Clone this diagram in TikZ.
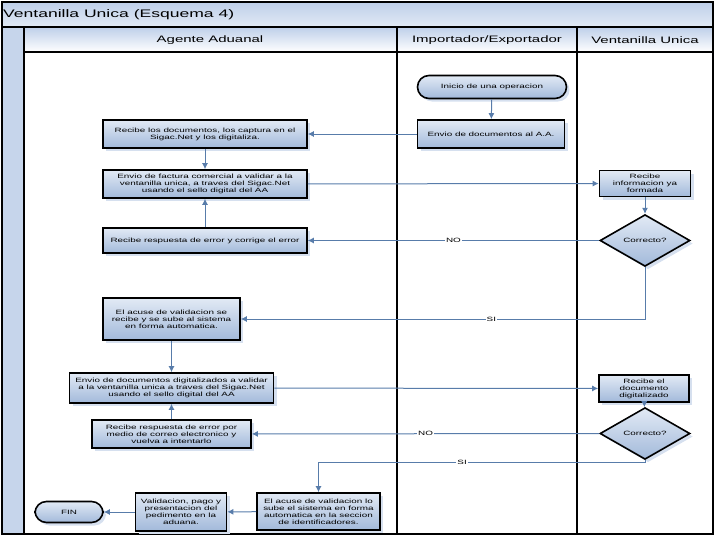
\documentclass[tikz,border=0pt]{standalone}
\usepackage{fontspec}
\setmainfont{Liberation Sans}[FakeStretch=1.6]
\usepackage{tikz}
\usetikzlibrary{arrows.meta,shapes,shadows}
\definecolor{boxtop}{RGB}{226,234,245}
\definecolor{boxbot}{RGB}{162,185,218}
\definecolor{flowc}{RGB}{88,124,170}
\definecolor{lanefill}{RGB}{198,213,235}
\definecolor{hdrtop}{RGB}{190,207,233}
\definecolor{shadowc}{RGB}{214,224,239}
\newcommand{\boxfont}{\fontsize{6.2}{7}\selectfont}
\newcommand{\lanefont}{\fontsize{9.4}{11}\selectfont}
\newcommand{\titlefont}{\fontsize{11}{13}\selectfont}

\begin{document}
\begin{tikzpicture}[
  proc/.style={draw=black,line width=1.6bp,top color=boxtop,bottom color=boxbot,
    drop shadow={shadow xshift=3bp,shadow yshift=-3bp,fill=shadowc,opacity=1},
    font=\boxfont,align=center,inner sep=1bp},
  term/.style={proc,rounded corners=11.5bp},
  test/.style={proc,diamond,minimum width=90bp,minimum height=37bp},
  flow/.style={draw=flowc,line width=1bp,-{Latex[length=6bp,width=6bp]}},
  cond/.style={fill=white,inner sep=1bp,font=\boxfont},
  lane/.style={draw=black,line width=2.2bp}
]
\useasboundingbox (0bp,0bp) rectangle (720bp,-540bp);
% pool and lanes
\shade [top color=hdrtop,bottom color=boxtop] (2bp,-2bp) rectangle (713bp,-27bp);
\fill [lanefill] (2bp,-27bp) rectangle (24bp,-534bp);
\shade [top color=hdrtop,bottom color=white] (24bp,-27bp) rectangle (713bp,-52bp);
\draw [lane] (2bp,-2bp) rectangle (713bp,-534bp);
\draw [lane] (2bp,-27bp) -- (713bp,-27bp);
\draw [lane] (24bp,-52bp) -- (713bp,-52bp);
\draw [lane] (24bp,-27bp) -- (24bp,-534bp);
\draw [lane] (397bp,-27bp) -- (397bp,-534bp);
\draw [lane] (577bp,-27bp) -- (577bp,-534bp);
\node (T) at (3bp,-14.5bp)[anchor=west,inner sep=0pt,font=\titlefont] {Ventanilla Unica (Esquema 4)};
\node (L1) at (210bp,-40bp)[font=\lanefont] {Agente Aduanal};
\node (L2) at (487bp,-40bp)[font=\lanefont] {Importador/Exportador};
\node (L3) at (645bp,-40bp)[font=\lanefont] {Ventanilla Unica};
% Importador/Exportador
\node (I1) at (492bp,-87bp)[term,minimum width=149bp,minimum height=23bp] {Inicio de una operacion};
\node (I2) at (491bp,-134bp)[proc,minimum width=147bp,minimum height=28bp] {Envio de documentos al A.A.};
% Agente Aduanal
\node (A1) at (205bp,-134bp)[proc,minimum width=204bp,minimum height=28bp] {Recibe los documentos, los captura en el\\Sigac.Net y los digitaliza.};
\node (A2) at (205bp,-184bp)[proc,minimum width=204bp,minimum height=28bp] {Envio de factura comercial a validar a la\\ventanilla unica, a traves del Sigac.Net\\usando el sello digital del AA};
\node (A3) at (205bp,-240.5bp)[proc,minimum width=204bp,minimum height=25bp] {Recibe respuesta de error y corrige el error};
\node (A4) at (171.5bp,-319bp)[proc,minimum width=137bp,minimum height=42bp] {El acuse de validacion se\\recibe y se sube al sistema\\en forma automatica.};
\node (A5) at (171.5bp,-388bp)[proc,minimum width=204bp,minimum height=30bp] {Envio de documentos digitalizados a validar\\a la ventanilla unica a traves del Sigac.Net\\usando el sello digital del AA};
\node (A6) at (171.5bp,-434bp)[proc,minimum width=159bp,minimum height=28bp] {Recibe respuesta de error por\\medio de correo electronico y\\vuelva a intentarlo};
\node (A7) at (318.5bp,-511.5bp)[proc,minimum width=123bp,minimum height=37bp] {El acuse de validacion lo\\sube el sistema en forma\\automatica en la seccion\\de identificadores.};
\node (A8) at (181bp,-512bp)[proc,minimum width=91bp,minimum height=38bp] {Validacion, pago y\\presentacion del\\pedimento en la\\aduana.};
\node (A9) at (69bp,-512bp)[term,minimum width=68bp,minimum height=21bp] {FIN};
% Ventanilla Unica
\node (V1) at (645bp,-183.5bp)[proc,minimum width=91bp,minimum height=26bp] {Recibe\\informacion ya\\formada};
\node (V2) at (645bp,-240.5bp)[test] {Correcto?};
\node (V3) at (644bp,-388.5bp)[proc,minimum width=90bp,minimum height=27bp] {Recibe el\\documento\\digitalizado};
\node (V4) at (645bp,-433.5bp)[test] {Correcto?};
\coordinate (C1) at (318.5bp,-462bp);
% connectors
\draw [flow] (I1) -- (I2);
\draw [flow] (I2) -- (A1);
\draw [flow] (A1) -- (A2);
\draw [flow] (A2) -- (V1);
\draw [flow] (V1) -- (V2);
\draw [flow] (V2) -- node[cond] {NO} (A3);
\draw [flow] (A3) -- (A2);
\draw [flow] (V2.south) |- node[cond,pos=0.69] {SI} (A4.east);
\draw [flow] (A4) -- (A5);
\draw [flow] (A5) -- (V3);
\draw [flow] (V3) -- (V4);
\draw [flow] (V4) -- node[cond] {NO} (A6);
\draw [flow] (A6) -- (A5);
\draw [flow] (V4.south) |- node[cond,pos=0.78] {SI} (C1) -- (A7.north);
\draw [flow] (A7) -- (A8);
\draw [flow] (A8) -- (A9);
\end{tikzpicture}
\end{document}
